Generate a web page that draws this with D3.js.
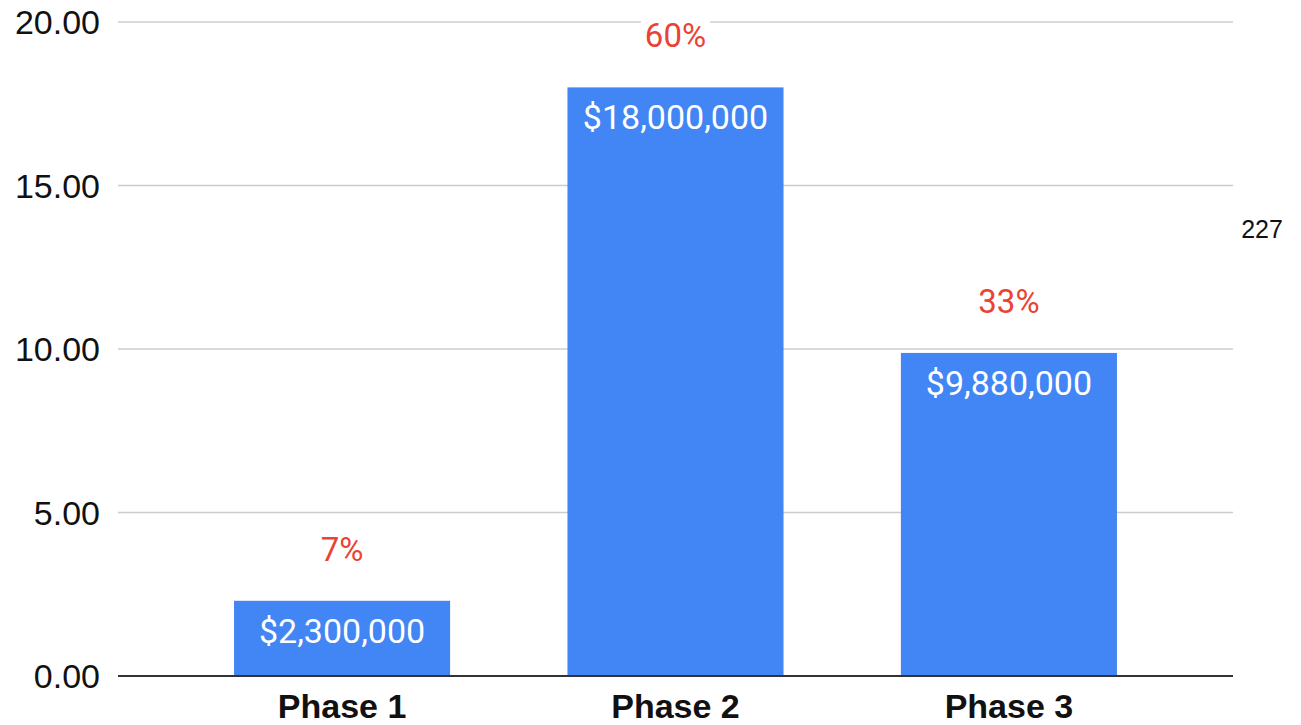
<!DOCTYPE html>
<html>
<head>
<meta charset="utf-8">
<script src="https://cdn.jsdelivr.net/npm/d3@7"></script>
<style>
  html, body { margin: 0; padding: 0; background: #fff; }
  svg { display: block; }
</style>
</head>
<body>
<svg id="chart" width="1301" height="725"></svg>
<script>
const categories = ["Phase 1", "Phase 2", "Phase 3"];
const values = [2.3, 18.0, 9.88];
const barLabels = ["$2,300,000", "$18,000,000", "$9,880,000"];
const shareLabels = ["7%", "60%", "33%"];
const yTicks = [0, 5, 10, 15, 20];
const sideNote = "227";

(function () {
const svg = d3.select("#chart");
const plotLeft = 118, plotRight = 1233, plotTop = 22, plotBottom = 676;

const x = d3.scaleBand().domain(categories).range([plotLeft, plotRight])
  .paddingInner(0.352).paddingOuter(0.348);
const y = d3.scaleLinear().domain([0, 20]).range([plotBottom, plotTop]);

// gridlines
svg.append("g").selectAll("line").data(yTicks.filter(d => d !== 0)).join("line")
  .attr("x1", plotLeft).attr("x2", plotRight)
  .attr("y1", d => y(d)).attr("y2", d => y(d))
  .attr("stroke", "#cccccc").attr("stroke-width", 1.5);

// y tick labels
const yAxis = d3.axisLeft(y).tickValues(yTicks).tickFormat(d3.format(".2f")).tickSize(0).tickPadding(18);
const gy = svg.append("g").attr("transform", `translate(${plotLeft},0)`).call(yAxis);
gy.select(".domain").remove();
gy.selectAll("text")
  .attr("font-family", "Liberation Sans, Arial, sans-serif")
  .attr("font-size", 34).attr("fill", "#111").attr("dy", "0.34em");

// bars
svg.append("g").selectAll("rect").data(categories).join("rect")
  .attr("x", d => x(d)).attr("width", x.bandwidth())
  .attr("y", (d, i) => y(values[i]))
  .attr("height", (d, i) => y(0) - y(values[i]))
  .attr("fill", "#4285f4");

// baseline axis
svg.append("line").attr("x1", plotLeft).attr("x2", plotRight)
  .attr("y1", y(0)).attr("y2", y(0))
  .attr("stroke", "#333").attr("stroke-width", 2);

// x axis labels
const xAxis = d3.axisBottom(x).tickSize(0).tickPadding(18);
const gx = svg.append("g").attr("transform", `translate(0,${plotBottom})`).call(xAxis);
gx.select(".domain").remove();
gx.selectAll("text")
  .attr("font-family", "Liberation Sans, Arial, sans-serif")
  .attr("font-weight", "bold").attr("font-size", 34).attr("fill", "#111");

// value labels inside bars
svg.append("g").selectAll("text").data(categories).join("text")
  .attr("x", d => x(d) + x.bandwidth() / 2)
  .attr("y", (d, i) => y(values[i]) + 42)
  .attr("text-anchor", "middle")
  .attr("font-family", "Roboto, sans-serif")
  .attr("font-size", 34).attr("fill", "#fff")
  .text((d, i) => barLabels[i]);

// share labels above bars (with white backing)
const sg = svg.append("g");
categories.forEach((c, i) => {
  const cx = x(c) + x.bandwidth() / 2;
  const by = y(values[i]) - 40;
  const t = sg.append("text")
    .attr("x", cx).attr("y", by)
    .attr("text-anchor", "middle")
    .attr("font-family", "Roboto, sans-serif")
    .attr("font-size", 33).attr("fill", "#ea4335")
    .text(shareLabels[i]);
  const bb = t.node().getBBox();
  sg.insert("rect", () => t.node())
    .attr("x", bb.x - 4).attr("y", bb.y).attr("width", bb.width + 8).attr("height", bb.height)
    .attr("fill", "#fff");
});

// side note
svg.append("text").attr("x", 1262).attr("y", 238)
  .attr("text-anchor", "middle")
  .attr("font-family", "Liberation Sans, Arial, sans-serif")
  .attr("font-size", 25).attr("fill", "#111")
  .text(sideNote);
})();
</script>
</body>
</html>
